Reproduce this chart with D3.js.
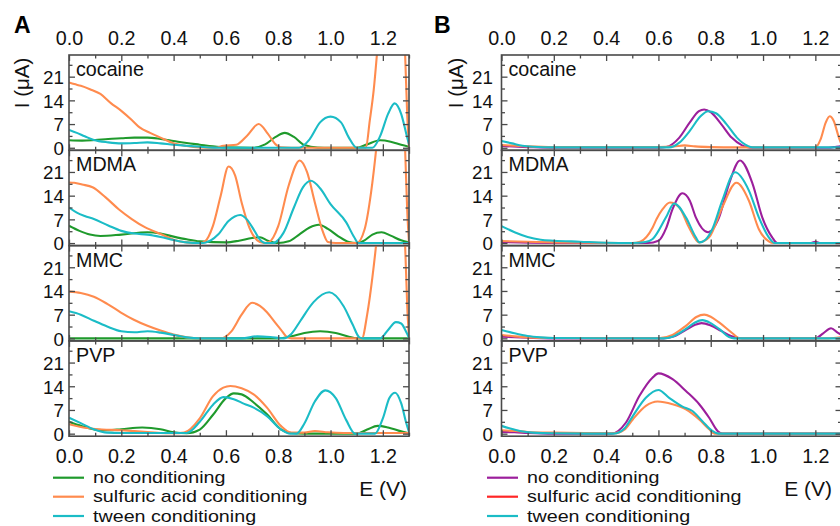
<!DOCTYPE html>
<html><head><meta charset="utf-8">
<script src="https://cdn.jsdelivr.net/npm/d3@7/dist/d3.min.js"></script>
<style>body{margin:0;background:#fff}svg{display:block;font-family:"Liberation Sans",Arial,sans-serif}</style>
</head><body><svg id="c" width="840" height="526"></svg>
<script>
// ---------- data ----------
const panelNames = ["cocaine", "MDMA", "MMC", "PVP"];
const xTickLabels = [0.0, 0.2, 0.4, 0.6, 0.8, 1.0, 1.2];
const xMinorTicks = [0.1, 0.3, 0.5, 0.7, 0.9, 1.1, 1.3];
const yTickLabels = [0, 7, 14, 21];
const yMinorTicks = [3.5, 10.5, 17.5, 24.5];
const seriesNames = ["no conditioning", "sulfuric acid conditioning", "tween conditioning"];

// Panel A  (E in V, I in µA)
const A_cocaine_no = [[0,2.2],[0.05,2.1],[0.1,2.3],[0.15,2.6],[0.2,2.8],[0.25,3.0],[0.3,3.0],[0.35,2.6],[0.4,2.0],[0.45,1.4],[0.5,0.9],[0.55,0.4],[0.6,0.1],[0.7,0],[0.75,1.0],[0.79,3.2],[0.825,4.4],[0.86,3.2],[0.9,0.8],[0.95,0.05],[1.0,0],[1.1,0],[1.14,1.0],[1.19,2.2],[1.23,1.8],[1.27,0.9],[1.3,0.3]];
const A_cocaine_sulf = [[0,19.3],[0.02,18.8],[0.045,18.3],[0.08,17.3],[0.12,15.9],[0.16,13.2],[0.2,10.9],[0.24,8.2],[0.27,6.0],[0.31,4.4],[0.35,3.0],[0.4,1.3],[0.45,0.5],[0.5,0.1],[0.56,0],[0.59,0.6],[0.64,0.9],[0.68,3.5],[0.725,7.0],[0.76,4.2],[0.79,1.0],[0.81,0.1],[0.85,0],[1.135,0],[1.15,8],[1.165,17],[1.18,30],[1.2,50],[1.27,50],[1.285,28],[1.293,10],[1.3,0]];
const A_cocaine_tween = [[0,5.3],[0.03,4.4],[0.06,3.4],[0.095,2.3],[0.15,1.6],[0.2,1.3],[0.25,1.4],[0.3,1.6],[0.35,1.3],[0.4,0.9],[0.45,0.6],[0.5,0.3],[0.55,0.05],[0.6,0],[0.88,0],[0.92,2.5],[0.96,7.5],[1.0,9.2],[1.04,7.5],[1.07,3],[1.1,0],[1.16,0],[1.19,3.5],[1.22,10],[1.245,13.1],[1.27,10],[1.29,4],[1.3,1]];

const A_mdma_no = [[0,5.1],[0.04,3.6],[0.08,2.5],[0.12,2.1],[0.2,2.5],[0.3,3.2],[0.35,2.8],[0.4,1.9],[0.45,1.1],[0.5,0.5],[0.6,0.2],[0.65,0.7],[0.7,1.5],[0.73,1.7],[0.76,0.7],[0.8,0],[0.84,0.5],[0.88,2.5],[0.92,4.6],[0.955,5.4],[0.99,4.2],[1.03,2],[1.07,0.3],[1.1,0],[1.13,0.8],[1.16,2.5],[1.195,3.2],[1.23,2.2],[1.27,0.8],[1.3,0.2]];
const A_mdma_sulf = [[0,17.9],[0.02,17.8],[0.05,17.3],[0.09,16.5],[0.14,13.5],[0.19,10],[0.24,7.1],[0.29,4.7],[0.35,2.7],[0.4,1.0],[0.45,0.2],[0.5,0],[0.52,0.5],[0.55,5],[0.58,14],[0.61,22.6],[0.635,20],[0.66,12],[0.69,4.5],[0.72,0.8],[0.745,0],[0.765,0.3],[0.8,5],[0.84,17],[0.882,24.4],[0.91,21],[0.94,12],[0.97,3.5],[0.99,0.3],[1.02,0],[1.1,0],[1.13,4],[1.155,15],[1.18,32],[1.2,50],[1.27,50],[1.285,28],[1.293,10],[1.3,0]];
const A_mdma_tween = [[0,10.5],[0.03,9.0],[0.06,8.0],[0.095,7.1],[0.15,5.2],[0.2,3.6],[0.25,2.8],[0.3,2.5],[0.35,1.8],[0.4,0.9],[0.45,0.2],[0.5,0],[0.52,0.1],[0.57,2.5],[0.61,6.5],[0.655,8.3],[0.68,7],[0.71,3.5],[0.73,1],[0.75,0],[0.78,0],[0.82,3],[0.86,10.5],[0.895,16.5],[0.925,18.4],[0.96,16.2],[1.0,11.5],[1.06,6.1],[1.09,1.8],[1.107,0],[1.3,0]];

const A_mmc_no = [[0,0],[0.8,0],[0.85,0.6],[0.9,1.6],[0.96,2.1],[1.02,1.6],[1.07,0.5],[1.1,0],[1.3,0]];
const A_mmc_sulf = [[0,13.8],[0.045,13.4],[0.095,12.3],[0.146,10.2],[0.197,7.7],[0.248,5.5],[0.3,3.7],[0.35,2.3],[0.4,1.1],[0.45,0.3],[0.5,0],[0.58,0],[0.62,2],[0.66,7],[0.7,10.5],[0.73,9.6],[0.757,7.7],[0.79,4.5],[0.81,2.6],[0.835,0.3],[0.85,0],[1.12,0],[1.14,7],[1.16,18],[1.18,32],[1.2,50],[1.27,50],[1.285,28],[1.293,10],[1.3,0]];
const A_mmc_tween = [[0,8.0],[0.045,7.0],[0.095,5.2],[0.146,3.5],[0.2,2.1],[0.25,1.8],[0.3,2.1],[0.35,1.7],[0.4,1.0],[0.45,0.3],[0.5,0],[0.66,0],[0.72,0.6],[0.77,0.4],[0.82,0],[0.85,1.3],[0.885,5.2],[0.935,10.7],[0.995,13.6],[1.05,9.5],[1.085,4],[1.11,0.3],[1.125,0],[1.19,0],[1.22,2.5],[1.25,4.8],[1.27,4.4],[1.29,1.8],[1.3,0.2]];

const A_pvp_no = [[0,3.5],[0.05,2.2],[0.1,1.2],[0.15,1.0],[0.2,1.3],[0.28,1.8],[0.35,1.3],[0.4,0.4],[0.45,0.1],[0.5,1.2],[0.55,5.5],[0.6,10.5],[0.63,11.9],[0.66,11.6],[0.706,9.2],[0.757,5.7],[0.81,1.3],[0.85,0.2],[0.9,0],[1.1,0],[1.14,1.2],[1.18,2.3],[1.22,1.8],[1.26,0.9],[1.3,0.1]];
const A_pvp_sulf = [[0,2.8],[0.05,1.9],[0.1,1.4],[0.2,1.0],[0.3,0.5],[0.4,0.1],[0.44,0.3],[0.5,4.5],[0.55,11],[0.59,13.6],[0.617,14.1],[0.66,13.4],[0.706,11.6],[0.757,7.7],[0.81,2.3],[0.85,0.3],[0.9,0.3],[0.94,0.8],[0.99,0.4],[1.05,0.2],[1.3,0.2]];
const A_pvp_tween = [[0,4.7],[0.045,3.1],[0.095,1.3],[0.146,0.3],[0.2,0.2],[0.45,0.2],[0.5,3.5],[0.55,8.5],[0.59,10.8],[0.63,10.2],[0.67,8.8],[0.706,7.7],[0.757,5.2],[0.81,1.3],[0.846,0],[0.87,0],[0.9,3],[0.94,9.5],[0.98,12.8],[1.02,10.5],[1.06,4],[1.094,0],[1.17,0],[1.2,4.5],[1.225,10.5],[1.247,12.1],[1.27,9],[1.29,3],[1.3,0.5]];

// Panel B
const B_cocaine_no = [[0,0.5],[0.1,0.2],[0.2,0],[0.6,0],[0.63,0.2],[0.68,3],[0.72,7.5],[0.755,10.8],[0.775,11.3],[0.8,10.5],[0.84,7],[0.88,3],[0.92,0.7],[0.95,0],[1.25,0],[1.28,0.3],[1.3,0.5]];
const B_cocaine_sulf = [[0,0.8],[0.05,0.6],[0.1,0.4],[0.2,0.2],[0.6,0.2],[0.66,0.4],[0.7,0.7],[0.74,0.4],[0.8,0.2],[0.9,0.1],[1.2,0.1],[1.22,2.5],[1.24,7.5],[1.255,9.3],[1.27,8],[1.29,3],[1.3,1]];
const B_cocaine_tween = [[0,2.0],[0.04,1.3],[0.08,0.6],[0.12,0.3],[0.2,0.1],[0.64,0.1],[0.68,1.5],[0.72,5],[0.76,9.2],[0.79,10.8],[0.82,10.2],[0.86,7],[0.9,3],[0.94,0.6],[0.96,0.1],[1.3,0.1]];

const B_mdma_no = [[0,0.3],[0.3,0],[0.56,0],[0.6,0.7],[0.63,4.5],[0.654,10],[0.692,14.7],[0.72,12.5],[0.743,7.6],[0.79,3.2],[0.832,7.6],[0.87,17.5],[0.912,24.4],[0.96,17.5],[0.997,7.6],[1.035,1.7],[1.055,0],[1.18,0],[1.2,0.4],[1.22,0],[1.3,0]];
const B_mdma_sulf = [[0,0.6],[0.1,0.4],[0.2,0.2],[0.5,0],[0.53,0.4],[0.578,4.6],[0.593,7.1],[0.616,10],[0.644,12],[0.68,10.5],[0.717,4.6],[0.755,0.2],[0.794,1.7],[0.844,10.5],[0.898,17.8],[0.946,12.5],[0.984,4.1],[1.022,0.5],[1.04,0],[1.3,0]];
const B_mdma_tween = [[0,5.0],[0.05,3.2],[0.1,1.8],[0.15,1.0],[0.2,0.7],[0.3,0.4],[0.4,0.1],[0.5,0],[0.55,0.3],[0.578,1.2],[0.629,7.6],[0.66,11.7],[0.705,7.6],[0.743,1.7],[0.757,0.2],[0.78,1],[0.806,4.1],[0.844,12.5],[0.893,20.9],[0.946,15.5],[0.984,7.6],[1.022,1.7],[1.045,0],[1.3,0]];

const B_mmc_no = [[0,0.5],[0.1,0.2],[0.2,0],[0.62,0],[0.66,0.6],[0.705,2.5],[0.74,4.0],[0.765,4.5],[0.8,3.8],[0.84,2.2],[0.88,0.6],[0.92,0],[1.2,0],[1.23,1.5],[1.26,3.0],[1.285,1.7],[1.3,1]];
const B_mmc_sulf = [[0,1.0],[0.05,0.6],[0.1,0.3],[0.2,0.1],[0.6,0],[0.654,1.0],[0.705,3.7],[0.745,6.3],[0.775,7.0],[0.8,6.4],[0.832,4.7],[0.883,1.5],[0.91,0],[1.25,0],[1.3,0.4]];
const B_mmc_tween = [[0,2.5],[0.05,1.5],[0.1,0.7],[0.15,0.3],[0.2,0.1],[0.62,0],[0.654,0.5],[0.705,2.8],[0.74,4.7],[0.768,5.4],[0.8,4.5],[0.832,2.8],[0.87,0.4],[0.89,0],[1.3,0]];

const B_pvp_no = [[0,0.5],[0.05,0.4],[0.1,0.2],[0.2,0],[0.42,0],[0.476,3.3],[0.527,11.1],[0.578,16.6],[0.6,17.8],[0.654,16.1],[0.705,12.6],[0.756,8.7],[0.794,4.7],[0.826,0.8],[0.845,0],[1.3,0]];
const B_pvp_sulf = [[0,1.0],[0.05,0.8],[0.1,0.5],[0.2,0.3],[0.43,0.1],[0.47,1.2],[0.502,4.2],[0.552,8.2],[0.597,9.5],[0.654,8.7],[0.705,7.2],[0.756,4.2],[0.794,1.3],[0.815,0],[1.3,0]];
const B_pvp_tween = [[0,2.3],[0.03,1.6],[0.07,0.8],[0.12,0.3],[0.2,0.1],[0.43,0],[0.47,1.5],[0.502,5.2],[0.552,10.6],[0.6,12.9],[0.641,10.6],[0.692,8.0],[0.73,6.7],[0.768,3.7],[0.806,0.8],[0.83,0],[1.3,0]];

const colorsA = ["#1f9a2c", "#ff8b4e", "#1bbcc6"];
const colorsB = ["#9c1f9c", "#ff8b4e", "#1bbcc6"];
const legendColorsB = ["#9c1f9c", "#ff2626", "#1bbcc6"];

// ---------- layout ----------
const charts = [
  { letter: "A", x0: 69, letterX: 14, yLabX: 29, yTickX: 64, legLineX: 53, legTextX: 93, eLabX: 407,
    panels: [[A_cocaine_no, A_cocaine_sulf, A_cocaine_tween], [A_mdma_no, A_mdma_sulf, A_mdma_tween],
             [A_mmc_no, A_mmc_sulf, A_mmc_tween], [A_pvp_no, A_pvp_sulf, A_pvp_tween]],
    colors: colorsA, legendColors: colorsA },
  { letter: "B", x0: 501.5, letterX: 434, yLabX: 463, yTickX: 493, legLineX: 487, legTextX: 527, eLabX: 832,
    panels: [[B_cocaine_no, B_cocaine_sulf, B_cocaine_tween], [B_mdma_no, B_mdma_sulf, B_mdma_tween],
             [B_mmc_no, B_mmc_sulf, B_mmc_tween], [B_pvp_no, B_pvp_sulf, B_pvp_tween]],
    colors: colorsB, legendColors: legendColorsB }
];
const plotW = 340, top0 = 55, panelH = 95.3;
const axisCol = "#4a4a4a";
const fs = 19.7;
const yFs = 18.8;
const legFs = 16.4;
const svg = d3.select("#c");
const defs = svg.append("defs");

charts.forEach((c, ci) => {
  const x = d3.scaleLinear().domain([0, 1.3]).range([c.x0, c.x0 + plotW]);
  const g = svg.append("g");

  c.panels.forEach((series, pi) => {
    const top = top0 + pi * panelH;
    const y = d3.scaleLinear().domain([-0.75, 27.4]).range([top + panelH, top]);
    const clipId = `clip${ci}_${pi}`;
    defs.append("clipPath").attr("id", clipId).append("rect")
      .attr("x", c.x0).attr("y", top).attr("width", plotW).attr("height", panelH);

    const line = d3.line().x(d => x(d[0])).y(d => y(d[1])).curve(d3.curveMonotoneX);
    const lg = g.append("g").attr("clip-path", `url(#${clipId})`);
    series.forEach((s, si) => {
      lg.append("path").datum(s).attr("d", line).attr("fill", "none")
        .attr("stroke", c.colors[si]).attr("stroke-width", 2.1).attr("stroke-linejoin", "round");
    });

    // inward ticks on all sides
    const tickAxis = (axisFn, scale, vals, size, tx, ty) => {
      const a = g.append("g").attr("transform", `translate(${tx},${ty})`)
        .call(axisFn(scale).tickValues(vals).tickSize(size).tickFormat(""));
      a.select(".domain").remove();
      a.selectAll("line").attr("stroke", axisCol).attr("stroke-width", 1.3);
    };
    tickAxis(d3.axisBottom, x, xTickLabels, -6, 0, top + panelH);
    tickAxis(d3.axisBottom, x, xMinorTicks, -3.5, 0, top + panelH);
    tickAxis(d3.axisTop, x, xTickLabels, -6, 0, top);
    tickAxis(d3.axisTop, x, xMinorTicks, -3.5, 0, top);
    tickAxis(d3.axisLeft, y, yTickLabels, -6, c.x0, 0);
    tickAxis(d3.axisLeft, y, yMinorTicks, -3.5, c.x0, 0);
    tickAxis(d3.axisRight, y, yTickLabels, -6, c.x0 + plotW, 0);
    tickAxis(d3.axisRight, y, yMinorTicks, -3.5, c.x0 + plotW, 0);

    // y tick labels
    const yl = g.append("g").attr("transform", `translate(${c.yTickX},0)`)
      .call(d3.axisLeft(y).tickValues(yTickLabels).tickSize(0).tickPadding(0));
    yl.select(".domain").remove();
    yl.selectAll("text").attr("x", 0).attr("dy", "0.36em").attr("font-size", yFs)
      .attr("font-family", "Liberation Sans, Arial, sans-serif").attr("fill", "#111");

    // frame
    g.append("rect").attr("x", c.x0).attr("y", top).attr("width", plotW).attr("height", panelH)
      .attr("fill", "none").attr("stroke", axisCol).attr("stroke-width", 1.6);

    // panel name
    g.append("text").attr("x", c.x0 + 7).attr("y", top + 21).attr("font-size", fs)
      .attr("fill", "#111").text(panelNames[pi]);
  });

  // top and bottom x tick labels
  [[d3.axisTop, 38], [d3.axisBottom, 455.5]].forEach(([fn, yy]) => {
    const a = g.append("g").attr("transform", `translate(0,${yy})`)
      .call(fn(x).tickValues(xTickLabels).tickSize(0).tickPadding(0).tickFormat(d3.format(".1f")));
    a.select(".domain").remove();
    a.selectAll("text").attr("y", 0).attr("dy", "0.36em").attr("font-size", fs)
      .attr("font-family", "Liberation Sans, Arial, sans-serif").attr("fill", "#111");
  });

  // panel letter
  g.append("text").attr("x", c.letterX).attr("y", 33).attr("font-size", 23)
    .attr("font-weight", "bold").attr("fill", "#000").text(c.letter);

  // y axis title
  g.append("text").attr("transform", `translate(${c.yLabX},83) rotate(-90)`)
    .attr("text-anchor", "middle").attr("font-size", 20.5).attr("fill", "#111").text("I (μA)");

  // x axis title
  g.append("text").attr("x", c.eLabX).attr("y", 496).attr("text-anchor", "end")
    .attr("font-size", 21).attr("fill", "#111").text("E (V)");

  // legend (compact height, stretched width to match the original's wide lettering)
  const legY = [477.7, 496.7, 516];
  seriesNames.forEach((n, i) => {
    g.append("line").attr("x1", c.legLineX).attr("x2", c.legLineX + 31)
      .attr("y1", legY[i]).attr("y2", legY[i]).attr("stroke", c.legendColors[i]).attr("stroke-width", 2.2);
    const t = g.append("text").attr("x", c.legTextX).attr("y", legY[i] + 5.5).attr("font-size", legFs)
      .attr("fill", "#111").text(n);
    const len = t.node().getComputedTextLength();
    t.attr("textLength", len * fs / legFs).attr("lengthAdjust", "spacingAndGlyphs");
  });
});
</script></body></html>
